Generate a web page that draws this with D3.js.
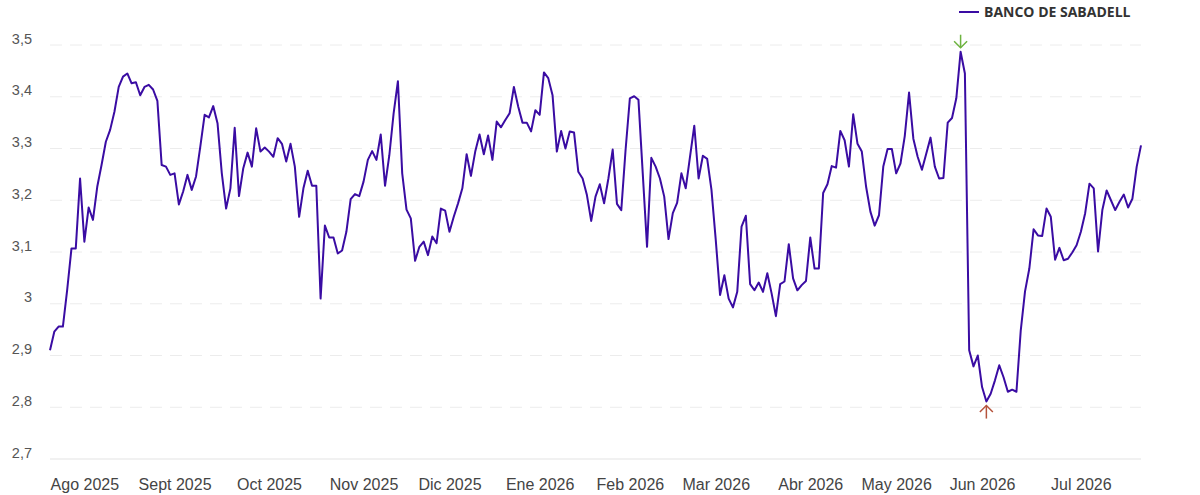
<!DOCTYPE html>
<html>
<head>
<meta charset="utf-8">
<script src="https://cdn.jsdelivr.net/npm/d3@7"></script>
<style>
  html, body { margin: 0; padding: 0; background: #fff; }
  #chart { width: 1200px; height: 495px; }
  svg { font-family: "Open Sans", "Noto Sans", sans-serif; }
</style>
</head>
<body>
<div id="chart"></div>
<script>
//data
const seriesName = "BANCO DE SABADELL";
const prices = [
  2.91, 2.946, 2.956, 2.956, 3.027, 3.107, 3.107, 3.242, 3.12, 3.186,
  3.162, 3.226, 3.268, 3.313, 3.336, 3.371, 3.419, 3.439, 3.445, 3.426,
  3.428, 3.403, 3.419, 3.423, 3.414, 3.392, 3.268, 3.265, 3.249, 3.252,
  3.192, 3.217, 3.249, 3.22, 3.246, 3.304, 3.365, 3.36, 3.382, 3.349,
  3.252, 3.184, 3.223, 3.34, 3.208, 3.262, 3.292, 3.265, 3.339, 3.294,
  3.302, 3.294, 3.284, 3.32, 3.309, 3.275, 3.309, 3.265, 3.168, 3.223,
  3.257, 3.228, 3.228, 3.01, 3.151, 3.128, 3.128, 3.097, 3.103, 3.139,
  3.202, 3.212, 3.208, 3.236, 3.278, 3.295, 3.278, 3.327, 3.228, 3.287,
  3.368, 3.43, 3.252, 3.182, 3.165, 3.083, 3.11, 3.12, 3.094, 3.13,
  3.117, 3.184, 3.18, 3.139, 3.168, 3.194, 3.223, 3.289, 3.247, 3.294,
  3.327, 3.289, 3.325, 3.278, 3.352, 3.341, 3.355, 3.368, 3.419, 3.381,
  3.35, 3.35, 3.333, 3.374, 3.365, 3.447, 3.436, 3.403, 3.294, 3.334,
  3.3, 3.333, 3.331, 3.255, 3.242, 3.21, 3.16, 3.207, 3.231, 3.194,
  3.242, 3.298, 3.193, 3.181, 3.297, 3.397, 3.401, 3.394, 3.252, 3.11,
  3.282, 3.265, 3.242, 3.207, 3.125, 3.175, 3.195, 3.252, 3.223, 3.284,
  3.344, 3.242, 3.286, 3.28, 3.22, 3.123, 3.017, 3.055, 3.01, 2.993,
  3.023, 3.149, 3.17, 3.038, 3.026, 3.041, 3.023, 3.059, 3.02, 2.976,
  3.038, 3.043, 3.115, 3.049, 3.026, 3.036, 3.044, 3.128, 3.068, 3.068,
  3.214, 3.231, 3.266, 3.263, 3.334, 3.316, 3.265, 3.366, 3.309, 3.294,
  3.226, 3.178, 3.151, 3.171, 3.265, 3.299, 3.299, 3.252, 3.271, 3.324,
  3.408, 3.319, 3.284, 3.259, 3.29, 3.321, 3.265, 3.242, 3.243, 3.35,
  3.359, 3.397, 3.487, 3.445, 2.91, 2.879, 2.9, 2.839, 2.811, 2.826,
  2.852, 2.881, 2.858, 2.83, 2.834, 2.83, 2.948, 3.024, 3.068, 3.144,
  3.132, 3.131, 3.184, 3.168, 3.085, 3.108, 3.084, 3.087, 3.099, 3.113,
  3.139, 3.175, 3.232, 3.223, 3.101, 3.181, 3.219, 3.2, 3.181, 3.197,
  3.211, 3.186, 3.203, 3.265, 3.306
];
const monthLabels = ["Ago 2025", "Sept 2025", "Oct 2025", "Nov 2025", "Dic 2025", "Ene 2026",
  "Feb 2026", "Mar 2026", "Abr 2026", "May 2026", "Jun 2026", "Jul 2026"];
const monthIndex = [8, 29, 51, 73, 93, 114, 135, 155, 177, 197, 217, 240];
const yTicks = [2.7, 2.8, 2.9, 3.0, 3.1, 3.2, 3.3, 3.4, 3.5];

//size
const width = 1200, height = 495;
const margin = { top: 45, right: 59, bottom: 36, left: 50 };
const innerWidth = width - margin.left - margin.right;
const innerHeight = height - margin.top - margin.bottom;

//scale
const xScale = d3.scaleLinear().domain([0, prices.length - 1]).range([0, innerWidth]);
const yScale = d3.scaleLinear().domain([2.7, 3.5]).range([innerHeight, 0]);

const locale = d3.formatLocale({ decimal: ",", thousands: ".", grouping: [3], currency: ["", "€"] });
const fmt = locale.format(".2~f");

//create element
const svg = d3.select("#chart").append("svg")
  .attr("width", width)
  .attr("height", height);
const g = svg.append("g").attr("transform", `translate(${margin.left},${margin.top})`);

//grid
g.append("g").attr("class", "grid")
  .selectAll("line")
  .data(yTicks)
  .join("line")
  .attr("x1", 0)
  .attr("x2", innerWidth)
  .attr("y1", (d) => yScale(d))
  .attr("y2", (d) => yScale(d))
  .attr("stroke", (d) => d === 2.7 ? "#e3e3e3" : "#ececec")
  .attr("stroke-width", 1)
  .attr("stroke-dasharray", (d) => d === 2.7 ? null : "12,8");

//y-axis
const yAxis = g.append("g")
  .attr("transform", `translate(-18,0)`)
  .call(d3.axisLeft(yScale).tickValues(yTicks).tickFormat(fmt).tickSize(0).tickPadding(0));
yAxis.select(".domain").remove();
yAxis.selectAll("text")
  .attr("dy", "-0.13em")
  .attr("fill", "#555")
  .attr("font-size", 14.5);

//x-axis
const xAxis = g.append("g")
  .attr("transform", `translate(0,${innerHeight})`)
  .call(d3.axisBottom(xScale).tickValues(monthIndex).tickFormat((d, i) => monthLabels[i]).tickSize(0).tickPadding(20));
xAxis.select(".domain").remove();
xAxis.selectAll("text")
  .attr("fill", "#444")
  .attr("font-size", 16);

//line
const line = d3.line()
  .x((d, i) => xScale(i))
  .y((d) => yScale(d));
g.append("path")
  .datum(prices)
  .attr("fill", "none")
  .attr("stroke", "#3a0ca3")
  .attr("stroke-width", 2)
  .attr("stroke-linejoin", "round")
  .attr("d", line);

//max / min arrows
const maxI = d3.maxIndex(prices);
const minI = d3.minIndex(prices);
function arrow(i, dir, color) {
  const x = xScale(i);
  const y0 = yScale(prices[i]);
  const tip = y0 - dir * 4;
  const tail = tip - dir * 13;
  const a = g.append("g").attr("stroke", color).attr("stroke-width", 1.5).attr("fill", "none");
  a.append("line").attr("x1", x).attr("x2", x).attr("y1", tail).attr("y2", tip);
  a.append("path").attr("d", `M${x - 6.5},${tip - dir * 6.5}L${x},${tip}L${x + 6.5},${tip - dir * 6.5}`);
}
arrow(maxI, 1, "#6db33f");
arrow(minI, -1, "#b5533c");

//legend
const legend = svg.append("g").attr("transform", "translate(959,12)");
legend.append("line")
  .attr("x1", 0).attr("x2", 20)
  .attr("stroke", "#3a0ca3").attr("stroke-width", 2);
legend.append("text")
  .attr("x", 25)
  .attr("dy", "0.35em")
  .attr("font-size", 14)
  .attr("font-weight", "bold")
  .attr("fill", "#333")
  .text(seriesName);
</script>
</body>
</html>
